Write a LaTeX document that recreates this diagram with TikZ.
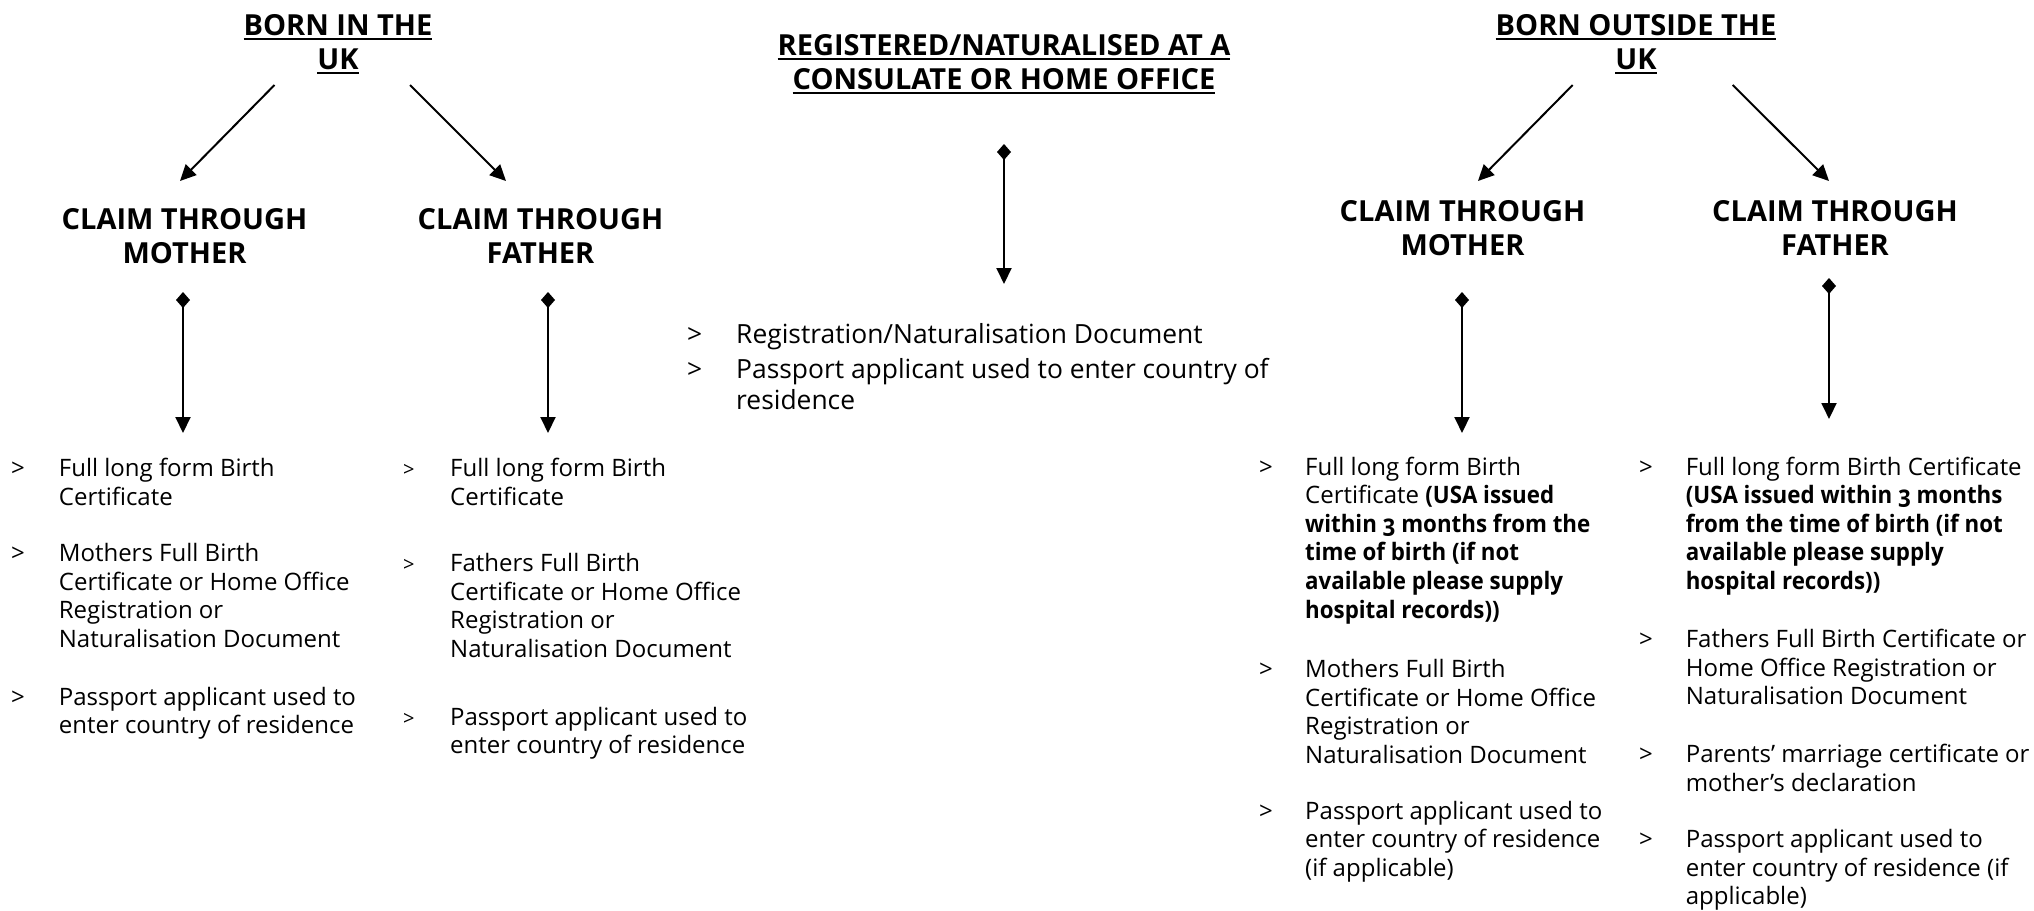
\documentclass[tikz,border=0pt]{standalone}
\usepackage{fontspec}
\setmainfont{Open Sans}
\newfontfamily\narrowbold[FakeStretch=0.93]{Open Sans}
\usetikzlibrary{arrows.meta}
\newcommand\hdul[1]{\vtop{\hbox{#1}\kern2.5pt\hrule height 2pt depth 0pt}}
\newcommand\headfont{\fontsize{29}{34.5}\selectfont\bfseries}
\newcommand\bodyfont{\fontsize{24}{28.6}\selectfont}
\newcommand\midfont{\fontsize{26.4}{31}\selectfont}
\newcommand\smallbul{\fontsize{20}{28.6}\selectfont}
\newcommand\lns[1]{\begin{tabular}[t]{@{}l@{}}#1\end{tabular}}
\newcommand\clns[1]{\begin{tabular}[t]{@{}c@{}}#1\end{tabular}}
\newcommand\bb[1]{{\narrowbold\bfseries #1}}
\newcommand\osf[1]{{\addfontfeature{Numbers=OldStyle}#1}}
\tikzset{
  hd/.style={font=\headfont, inner sep=0pt, anchor=base},
  txt/.style={font=\bodyfont, inner sep=0pt, anchor=base west},
  mtxt/.style={font=\midfont, inner sep=0pt, anchor=base west},
  conn/.style={line width=2pt, -{Triangle[width=15pt,length=16pt]}},
  stem/.style={line width=2pt, {Diamond[width=14pt,length=16pt]}-{Triangle[width=15pt,length=16pt]}},
}
\begin{document}
\begin{tikzpicture}[x=1pt,y=-1pt]
\useasboundingbox (0,0) rectangle (2034,910);
% ---------- left group ----------
\node[hd] (h1) at (338,35) {\clns{\hdul{BORN IN THE}\\\hdul{UK}}};
\node[hd] (m1) at (184.5,229) {\clns{CLAIM THROUGH\\MOTHER}};
\node[hd] (f1) at (540.5,229) {\clns{CLAIM THROUGH\\FATHER}};
\coordinate (h1l) at (274.5,85);
\coordinate (h1r) at (410,85);
\coordinate (m1t) at (180,181);
\coordinate (f1t) at (506,181);
\draw[conn] (h1l) -- (m1t);
\draw[conn] (h1r) -- (f1t);
\coordinate (m1s) at (183,292);
\coordinate (m1e) at (183,433);
\coordinate (f1s) at (548,292);
\coordinate (f1e) at (548,433);
\draw[stem] (m1s) -- (m1e);
\draw[stem] (f1s) -- (f1e);
% left mother list
\node[txt] (lb1) at (11,476.7) {>};
\node[txt] (lt1) at (58.7,476.7) {\lns{Full long form Birth\\Certificate}};
\node[txt] (lb2) at (11,561.7) {>};
\node[txt] (lt2) at (58.7,561.7) {\lns{Mothers Full Birth\\Certificate or Home Office\\Registration or\\Naturalisation Document}};
\node[txt] (lb3) at (11,705) {>};
\node[txt] (lt3) at (58.7,705) {\lns{Passport applicant used to\\enter country of residence}};
% left father list
\node[txt,font=\smallbul] (fb1) at (403,476.7) {>};
\node[txt] (ft1) at (450,476.7) {\lns{Full long form Birth\\Certificate}};
\node[txt,font=\smallbul] (fb2) at (403,571.7) {>};
\node[txt] (ft2) at (450,571.7) {\lns{Fathers Full Birth\\Certificate or Home Office\\Registration or\\Naturalisation Document}};
\node[txt,font=\smallbul] (fb3) at (403,725) {>};
\node[txt] (ft3) at (450,725) {\lns{Passport applicant used to\\enter country of residence}};
% ---------- middle ----------
\node[hd] (h2) at (1004,55) {\clns{\hdul{REGISTERED/NATURALISED AT A}\\[-0.5pt]\hdul{CONSULATE OR HOME OFFICE}}};
\coordinate (h2s) at (1004,144);
\coordinate (h2e) at (1004,284);
\draw[stem] (h2s) -- (h2e);
\node[mtxt] (cb1) at (687,343) {>};
\node[mtxt] (ct1) at (736,343) {Registration/Naturalisation Document};
\node[mtxt] (cb2) at (687,378) {>};
\node[mtxt] (ct2) at (736,378) {\lns{Passport applicant used to enter country of\\residence}};
% ---------- right group ----------
\node[hd] (h3) at (1636,35) {\clns{\hdul{BORN OUTSIDE THE}\\\hdul{UK}}};
\node[hd] (m3) at (1462.5,221) {\clns{CLAIM THROUGH\\MOTHER}};
\node[hd] (f3) at (1835,221) {\clns{CLAIM THROUGH\\FATHER}};
\coordinate (h3l) at (1572.7,85);
\coordinate (h3r) at (1732.7,85);
\coordinate (m3t) at (1478,181);
\coordinate (f3t) at (1829,181);
\draw[conn] (h3l) -- (m3t);
\draw[conn] (h3r) -- (f3t);
\coordinate (m3s) at (1462,292);
\coordinate (m3e) at (1462,433);
\coordinate (f3s) at (1829,278);
\coordinate (f3e) at (1829,419);
\draw[stem] (m3s) -- (m3e);
\draw[stem] (f3s) -- (f3e);
% right mother list
\node[txt] (rb1) at (1259,475) {>};
\node[txt] (rt1) at (1305,475) {\lns{Full long form Birth\\Certificate \bb{(USA issued}\\\bb{within \osf{3} months from the}\\\bb{time of birth (if not}\\\bb{available please supply}\\\bb{hospital records))}}};
\node[txt] (rb2) at (1259,677.5) {>};
\node[txt] (rt2) at (1305,677.5) {\lns{Mothers Full Birth\\Certificate or Home Office\\Registration or\\Naturalisation Document}};
\node[txt] (rb3) at (1259,819) {>};
\node[txt] (rt3) at (1305,819) {\lns{Passport applicant used to\\enter country of residence\\(if applicable)}};
% right father list
\node[txt] (sb1) at (1639,475) {>};
\node[txt] (st1) at (1685.6,475) {\lns{Full long form Birth Certificate\\\bb{(USA issued within \osf{3} months}\\\bb{from the time of birth (if not}\\\bb{available please supply}\\\bb{hospital records))}}};
\node[txt] (sb2) at (1639,647.5) {>};
\node[txt] (st2) at (1685.6,647.5) {\lns{Fathers Full Birth Certificate or\\Home Office Registration or\\Naturalisation Document}};
\node[txt] (sb3) at (1639,762.5) {>};
\node[txt] (st3) at (1685.6,762.5) {\lns{Parents’ marriage certificate or\\mother’s declaration}};
\node[txt] (sb4) at (1639,847.5) {>};
\node[txt] (st4) at (1685.6,847.5) {\lns{Passport applicant used to\\enter country of residence (if\\applicable)}};
\end{tikzpicture}
\end{document}
